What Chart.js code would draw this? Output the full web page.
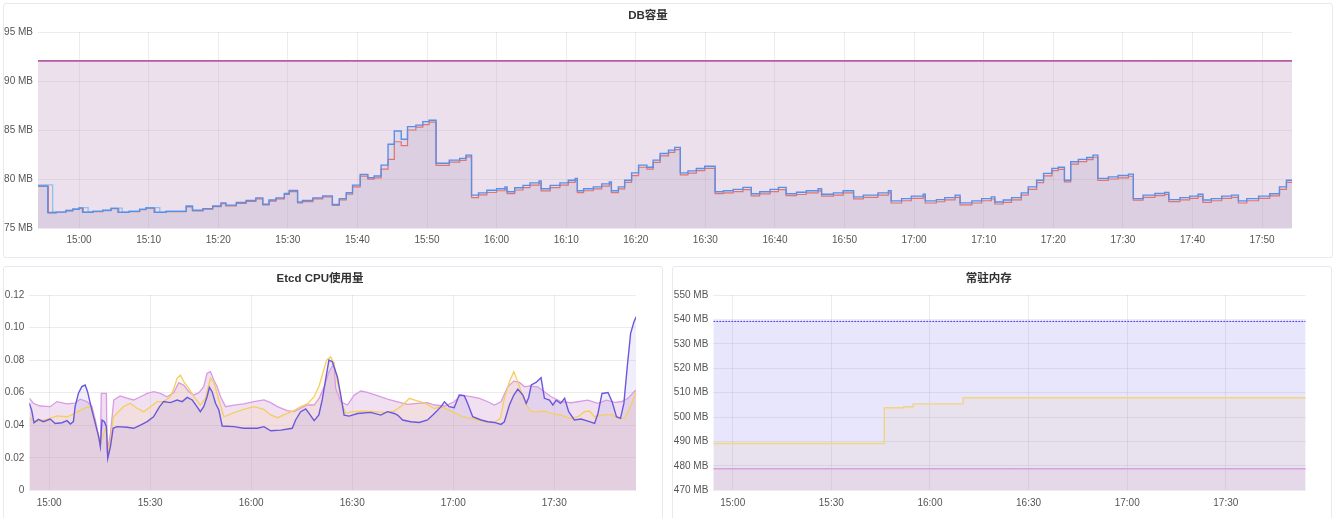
<!DOCTYPE html>
<html><head><meta charset="utf-8">
<script src="https://cdn.jsdelivr.net/npm/chart.js@4/dist/chart.umd.min.js"></script>
<style>
html,body{margin:0;padding:0;background:#fff;width:1335px;height:518px;overflow:hidden;}
.panel{position:absolute;border:1px solid #e6e9ee;border-radius:3px;background:#fff;box-sizing:border-box;}
.box{position:absolute;}
canvas{display:block;}
</style></head><body>
<div class="panel" style="left:3px;top:3px;width:1330px;height:255px"></div>
<div class="panel" style="left:3px;top:266px;width:660px;height:262px"></div>
<div class="panel" style="left:672px;top:266px;width:660px;height:262px"></div>
<div class="box" style="left:4px;top:4px;"><canvas id="c1" width="1328" height="253"></canvas></div>
<div class="box" style="left:4px;top:266px;"><canvas id="c2" width="657" height="252"></canvas></div>
<div class="box" style="left:672px;top:266px;"><canvas id="c3" width="659" height="252"></canvas></div>
<script>
// ---------- DATA (time = minutes after 15:00) ----------
const timeRange = [-5.9, 174.3];
const xTickLabelsDB = ['15:00','15:10','15:20','15:30','15:40','15:50','16:00','16:10','16:20','16:30','16:40','16:50','17:00','17:10','17:20','17:30','17:40','17:50'];
const xTickLabelsHalfHour = ['15:00','15:30','16:00','16:30','17:00','17:30'];
const yTicksDB = [75,80,85,90,95];
const yTicksCPU = [0,0.02,0.04,0.06,0.08,0.10,0.12];
const yTicksMem = [470,480,490,500,510,520,530,540,550];

// DB容量 (MB)
const dbQuotaPurple = [[-5.9,92.08],[174.3,92.08]];
const dbQuotaRed = [[-5.9,92.0],[174.3,92.0]];
const dbBlue = [[-5.9,79.3],[-4.5,76.58],[-3.3,76.62],[-1.9,76.78],[-0.9,76.92],[0,77.05],[0.5,76.6],[2,76.7],[3.4,76.8],[4.6,77.0],[5.6,76.6],[7.2,76.7],[8.7,76.9],[9.6,77.05],[10.8,76.6],[12.5,76.7],[15.4,77.22],[16.3,76.8],[17.8,76.98],[19.2,77.25],[20.4,77.56],[21.1,77.33],[22.6,77.6],[24,77.8],[25.4,78.07],[26.4,77.43],[27.3,77.85],[28.3,78.07],[29.5,78.52],[30.2,78.83],[31.4,77.66],[32.1,77.8],[33.6,78.07],[35,78.28],[36.4,77.4],[37.4,78.0],[38.4,78.6],[39.3,79.37],[40.4,80.47],[41.5,80.12],[42.4,80.3],[43.4,81.42],[44.4,83.54],[45.3,84.9],[46.3,84.05],[47.2,85.34],[48.4,85.5],[49.4,85.85],[50.3,86.0],[51.3,81.6],[53.2,81.93],[54.7,82.1],[55.6,82.44],[56.4,78.35],[57.4,78.58],[58.6,78.85],[60,79.0],[61.2,79.2],[61.5,78.7],[62.6,79.1],[63.8,79.35],[64.8,79.6],[66.1,79.8],[66.4,79.0],[67.7,79.35],[69.1,79.6],[70.3,79.88],[71.3,80.05],[71.6,78.8],[72.5,79.0],[73.9,79.2],[75.1,79.5],[76.2,79.7],[76.5,78.8],[77.5,79.2],[78.4,79.88],[79.4,80.63],[80.4,81.42],[81.6,81.2],[82.5,81.93],[83.5,82.6],[84.7,82.95],[85.6,83.23],[86.4,80.63],[87.5,80.83],[88.7,81.07],[89.9,81.3],[91.4,78.7],[92.6,78.8],[94,78.94],[95.4,79.15],[96.6,78.5],[97.8,78.7],[99.3,78.94],[100.5,79.15],[101.6,78.5],[103.1,78.65],[104.5,78.8],[106.2,79.0],[106.7,78.45],[108.4,78.58],[109.8,78.8],[111.3,78.18],[112.7,78.35],[114.8,78.58],[116.3,78.8],[116.7,77.77],[118.2,78.0],[119.6,78.25],[121.3,78.45],[121.6,77.77],[123.2,77.9],[124.4,78.1],[125.9,78.35],[126.6,77.56],[128.3,77.77],[129.7,78.0],[131.1,78.18],[131.6,77.66],[132.8,77.85],[134,78.1],[135.4,78.58],[136.4,79.2],[137.6,79.88],[138.6,80.57],[139.8,81.08],[140.7,81.2],[141.6,79.88],[142.5,81.76],[143.6,82.0],[144.8,82.2],[145.7,82.44],[146.4,80.06],[147.9,80.22],[149.3,80.35],[150.8,80.5],[151.5,78.0],[152.9,78.35],[154.6,78.52],[156,78.63],[156.6,77.9],[158.2,78.1],[159.6,78.25],[160.8,78.45],[161.5,77.85],[162.7,78.0],[164.2,78.25],[165.6,78.35],[166.6,77.77],[167.8,78.0],[169.5,78.25],[171.1,78.5],[172.5,79.2],[173.5,79.88],[174.3,79.88]];
const dbRed = [[-5.9,79.25],[-4.4,76.55],[-3.3,76.6],[-1.9,76.75],[-0.9,76.9],[0,77.0],[0.6,76.6],[2,76.68],[3.4,76.78],[4.6,76.98],[5.7,76.58],[7.2,76.68],[8.7,76.88],[9.6,77.0],[10.9,76.58],[12.5,76.68],[15.4,77.15],[16.3,76.75],[17.8,76.92],[19.2,77.18],[20.4,77.48],[21.1,77.25],[22.6,77.52],[24,77.72],[25.4,77.98],[26.4,77.35],[27.3,77.75],[28.3,77.98],[29.5,78.42],[30.2,78.72],[31.4,77.55],[32.1,77.7],[33.6,77.98],[35,78.18],[36.4,77.3],[37.4,77.88],[38.4,78.45],[39.3,79.2],[40.4,80.3],[41.5,79.98],[42.4,80.12],[43.4,81.0],[44.4,82.0],[45.3,83.8],[46.3,83.4],[47.2,85.0],[48.4,85.3],[49.4,85.55],[50.3,85.8],[51.3,81.4],[53.2,81.72],[54.7,81.9],[55.6,82.25],[56.4,78.1],[57.4,78.38],[58.6,78.62],[60,78.8],[61.2,79.0],[61.5,78.5],[62.6,78.88],[63.8,79.12],[64.8,79.38],[66.1,79.58],[66.4,78.78],[67.7,79.12],[69.1,79.38],[70.3,79.65],[71.3,79.85],[71.6,78.6],[72.5,78.8],[73.9,79.0],[75.1,79.28],[76.2,79.5],[76.5,78.6],[77.5,79.0],[78.4,79.65],[79.4,80.35],[80.4,81.2],[81.6,81.0],[82.5,81.7],[83.5,82.35],[84.7,82.72],[85.6,83.0],[86.4,80.42],[87.5,80.6],[88.7,80.85],[89.9,81.08],[91.4,78.5],[92.6,78.58],[94,78.72],[95.4,78.92],[96.6,78.28],[97.8,78.48],[99.3,78.72],[100.5,78.92],[101.6,78.3],[103.1,78.42],[104.5,78.58],[106.2,78.78],[106.7,78.25],[108.4,78.36],[109.8,78.58],[111.3,77.98],[112.7,78.12],[114.8,78.36],[116.3,78.58],[116.7,77.55],[118.2,77.78],[119.6,78.02],[121.3,78.22],[121.6,77.55],[123.2,77.68],[124.4,77.88],[125.9,78.12],[126.6,77.35],[128.3,77.55],[129.7,77.78],[131.1,77.96],[131.6,77.45],[132.8,77.62],[134,77.88],[135.4,78.35],[136.4,78.95],[137.6,79.62],[138.6,80.32],[139.8,80.85],[140.7,80.98],[141.6,79.7],[142.5,81.52],[143.6,81.78],[144.8,81.98],[145.7,82.22],[146.4,79.85],[147.9,80.0],[149.3,80.12],[150.8,80.28],[151.5,77.85],[152.9,78.12],[154.6,78.3],[156,78.42],[156.6,77.7],[158.2,77.88],[159.6,78.02],[160.8,78.22],[161.5,77.62],[162.7,77.78],[164.2,78.02],[165.6,78.12],[166.6,77.55],[167.8,77.78],[169.5,78.02],[171.1,78.28],[172.5,78.95],[173.5,79.65],[174.3,79.65]];
const dbLightBlue = [[-5.9,79.4],[-3.8,76.62],[-1.9,76.8],[-0.9,76.95],[0,77.08],[1.3,76.65],[2,76.72],[3.4,76.84],[4.6,77.03],[6.2,76.62],[7.2,76.72],[8.7,76.93],[9.6,77.08],[11.6,76.62],[12.5,76.72],[15.4,77.25],[16.3,76.83],[17.8,77.0]];

// Etcd CPU使用量
const cpuPurple = [[-5.9,0.0535],[-5.2,0.0493],[-4.5,0.0415],[-3.2,0.0436],[-1.7,0.0422],[0.3,0.0438],[1.8,0.0411],[3.8,0.0415],[5.3,0.0428],[6.3,0.0407],[7.2,0.0422],[7.7,0.0514],[8.7,0.0596],[9.7,0.0637],[10.7,0.0647],[11.4,0.0606],[12.2,0.0535],[12.7,0.0493],[13.7,0.0411],[14.7,0.033],[15.2,0.0268],[15.7,0.0432],[16.4,0.0422],[17.0,0.0391],[17.4,0.0197],[18.2,0.0268],[19.0,0.0381],[20.1,0.0391],[23.1,0.0387],[25.1,0.0381],[27.1,0.0401],[29.1,0.0422],[31.0,0.0452],[32.8,0.0514],[34.0,0.0545],[36.0,0.0539],[38.0,0.0555],[39.5,0.0545],[41.0,0.0571],[42.5,0.0555],[43.9,0.0514],[44.9,0.0483],[45.9,0.0514],[46.9,0.0575],[47.6,0.0633],[48.4,0.0606],[49.4,0.0535],[50.4,0.0493],[51.4,0.0395],[54.9,0.0391],[57.8,0.0381],[61.8,0.0381],[63.8,0.0391],[65.8,0.0366],[68.8,0.037],[72.2,0.0381],[73.2,0.0432],[74.7,0.0483],[76.2,0.05],[77.2,0.0473],[78.7,0.0428],[80.1,0.0463],[81.1,0.0555],[82.1,0.0678],[83.1,0.08],[84.1,0.079],[85.6,0.0698],[86.6,0.0585],[87.6,0.0462],[89.1,0.0456],[91.6,0.0472],[95.5,0.0479],[98.5,0.0462],[100.5,0.0483],[102.5,0.0472],[103.5,0.0462],[105,0.0432],[107.4,0.0421],[109.9,0.0417],[112.4,0.0432],[114.4,0.0472],[116.4,0.0514],[117.4,0.0544],[118.8,0.0514],[120.3,0.0507],[121.8,0.0585],[123.3,0.0581],[124.3,0.0534],[125.8,0.0452],[128.3,0.0432],[130.3,0.0421],[132.2,0.0417],[134.2,0.0405],[135.2,0.0421],[136.7,0.0524],[138,0.0585],[139.2,0.0622],[140.7,0.0585],[141.7,0.0534],[142.4,0.0569],[143.2,0.0647],[144.6,0.0663],[146.1,0.0692],[147.1,0.0565],[148.6,0.0554],[149.6,0.0524],[150.6,0.0554],[151.9,0.0534],[153.1,0.0565],[154.3,0.0483],[156,0.0432],[158,0.0438],[160,0.0425],[162,0.0411],[163,0.0472],[164.2,0.0595],[166,0.0601],[167.2,0.0544],[168.5,0.0452],[169.7,0.0442],[170.7,0.0534],[171.7,0.0759],[172.7,0.0964],[173.7,0.1036],[174.4,0.1067]];
const cpuYellow = [[-5.9,0.0442],[-3.7,0.0422],[-0.7,0.0436],[2.3,0.0457],[5.3,0.0452],[7.7,0.0473],[9.7,0.0497],[11.7,0.0514],[12.7,0.0493],[14.2,0.037],[15.2,0.0278],[16.2,0.035],[17.0,0.0391],[17.5,0.0227],[18.2,0.031],[19.1,0.0452],[20.6,0.0483],[22.1,0.0514],[24.1,0.0535],[26.1,0.0504],[28.1,0.0483],[30.1,0.0514],[32.1,0.0545],[34.0,0.0545],[36.0,0.0575],[37.0,0.0626],[38.0,0.0688],[39.0,0.0708],[40.0,0.0667],[41.5,0.0626],[43.0,0.0575],[44.9,0.0524],[46.4,0.0565],[47.9,0.0688],[48.9,0.0667],[50.4,0.0555],[51.9,0.0452],[54.9,0.0477],[57.8,0.0497],[60.8,0.0514],[63.8,0.0497],[65.8,0.0463],[67.8,0.0446],[70.7,0.0473],[72.7,0.0489],[74.7,0.0514],[76.7,0.0531],[78.7,0.0575],[80.1,0.0637],[81.1,0.0708],[82.4,0.08],[83.6,0.082],[84.6,0.0779],[85.6,0.0667],[87.1,0.0524],[88.1,0.0473],[90.1,0.0483],[93.5,0.0487],[96.5,0.0483],[99.5,0.0479],[102.5,0.0487],[105,0.0524],[107,0.0565],[108.4,0.0555],[110.4,0.0544],[112.4,0.0528],[114.4,0.0503],[116.4,0.0514],[118.8,0.0493],[120.8,0.0473],[122.8,0.0452],[125.3,0.0442],[127.3,0.0432],[129.8,0.0421],[132.2,0.0417],[134,0.0442],[135.2,0.0565],[136.7,0.0667],[138,0.0729],[139,0.0677],[140.2,0.0606],[141.7,0.0524],[143.2,0.0483],[145.1,0.0483],[147.1,0.0487],[149.1,0.0473],[152.1,0.0462],[154.6,0.0442],[157.1,0.0452],[159,0.0483],[160.5,0.0487],[162,0.0452],[164,0.0462],[167,0.0466],[169,0.0442],[170.9,0.0442],[172.4,0.0503],[174.4,0.0606]];
const cpuPink = [[-5.9,0.0566],[-4.7,0.0535],[-2.7,0.0518],[0.3,0.0514],[2.3,0.0545],[5.3,0.0531],[7.7,0.0535],[9.2,0.056],[11.2,0.0545],[12.7,0.0514],[13.7,0.0432],[14.7,0.033],[15.2,0.0278],[15.5,0.0596],[17.0,0.0596],[17.2,0.0227],[18.2,0.035],[19.2,0.0555],[21.1,0.058],[23.1,0.0566],[25.1,0.0555],[27.1,0.0575],[29.1,0.0596],[31.1,0.0606],[33.0,0.0596],[35.0,0.0575],[37.0,0.06],[38.5,0.0661],[40.0,0.0645],[41.5,0.0606],[43.0,0.0586],[44.5,0.06],[45.9,0.0637],[46.9,0.0719],[47.9,0.0729],[48.9,0.0678],[49.9,0.0637],[50.9,0.0575],[52.4,0.0514],[54.9,0.0524],[57.8,0.0531],[60.8,0.0545],[63.8,0.0555],[65.8,0.0539],[67.8,0.0514],[70.7,0.0489],[72.7,0.0483],[74.7,0.0504],[76.7,0.0524],[78.7,0.0524],[80.2,0.0566],[81.7,0.0637],[83.1,0.0729],[84.6,0.0779],[85.1,0.0627],[86.6,0.0544],[88.6,0.0524],[90.6,0.0585],[92.6,0.061],[94.5,0.0601],[97.5,0.0581],[100.5,0.056],[103.5,0.0544],[106.4,0.0528],[109.4,0.0534],[112.4,0.0538],[114.4,0.0524],[117.4,0.0518],[120.3,0.0544],[122.3,0.0585],[125.3,0.0575],[127.8,0.0565],[130.3,0.0544],[132.2,0.0524],[134.2,0.0544],[136.2,0.0636],[138,0.0671],[139.7,0.0663],[141.2,0.0636],[142.7,0.0642],[145.1,0.0636],[147.1,0.0606],[149.1,0.0575],[152.1,0.0544],[155.1,0.0538],[157,0.0544],[160,0.0554],[163,0.0534],[165.5,0.0554],[168,0.054],[169.9,0.0544],[171.9,0.0565],[173.9,0.061],[174.4,0.0615]];

// 常驻内存 (MB)
const memPurple = [[-5.9,539.2],[174.3,539.2]];
const memYellow = [[-5.9,489.2],[46.1,503.8],[52.0,504.2],[54.9,505.4],[70.1,507.9],[174.3,507.9]];
const memPink = [[-5.9,478.8],[174.3,478.8]];

// ---------- RENDERING ----------
const FONT = '"Liberation Sans", Arial, "Noto Sans CJK SC", sans-serif';
Chart.defaults.font.family = FONT;
Chart.defaults.font.size = 10;
Chart.defaults.color = '#555';

const GRID = 'rgba(0,0,0,0.075)';
function rgba(hex, a){const n=parseInt(hex.slice(1),16);return `rgba(${n>>16&255},${n>>8&255},${n&255},${a})`;}
function toMin(s){const p=s.split(':').map(Number);return (p[0]-15)*60+p[1];}
function fmtMin(v){const t=900+Math.round(v);return Math.floor(t/60)+':'+String(t%60).padStart(2,'0');}
function pts(arr){return arr.map(p=>({x:p[0],y:p[1]}));}

function line(label, arr, color, opts){
  return Object.assign({label, data: pts(arr), borderColor: color, backgroundColor: rgba(color, 0.1),
    borderWidth: 1, pointRadius: 0, fill: 'start', tension: 0}, opts||{});
}

function makeChart(id, cfg){
  return new Chart(document.getElementById(id), {
    type: 'line',
    data: {datasets: cfg.datasets},
    options: {
      responsive: false, animation: false, devicePixelRatio: 1,
      layout: {padding: cfg.padding},
      plugins: {
        legend: {display: false}, tooltip: {enabled: false},
        filler: {drawTime: 'beforeDatasetsDraw'},
        title: {display: true, text: cfg.title, color: '#333',
          font: {size: 11.5, weight: 'bold', family: FONT}, padding: cfg.titlePad}
      },
      scales: {
        x: {type: 'linear', min: timeRange[0], max: timeRange[1],
          grid: {color: GRID, drawTicks: false}, border: {display: false},
          afterBuildTicks: s => { s.ticks = cfg.xLabels.map(l => ({value: toMin(l)})); },
          afterFit: s => { s.height = 20; },
          ticks: {padding: 6.5, maxRotation: 0, autoSkip: false, callback: v => fmtMin(v)}},
        y: {type: 'linear', min: cfg.yTicks[0], max: cfg.yTicks[cfg.yTicks.length-1],
          grid: {color: GRID, drawTicks: false}, border: {display: false},
          afterBuildTicks: s => { s.ticks = cfg.yTicks.map(v => ({value: v})); },
          afterFit: s => { s.width = cfg.yWidth; },
          ticks: {padding: 5, callback: cfg.yFmt}}
      }
    }
  });
}

makeChart('c1', {
  title: 'DB容量', titlePad: {top: 5.1, bottom: 9.1},
  padding: {left: 0, right: 40, top: 0, bottom: 9}, yWidth: 34,
  xLabels: xTickLabelsDB, yTicks: yTicksDB, yFmt: v => v + ' MB',
  datasets: [
    line('purple', dbQuotaPurple, '#a35ec9', {borderWidth: 1.4, fill: false}),
    line('blue', dbBlue, '#5a8fe8', {stepped: true, borderWidth: 1.4}),
    line('lightblue', dbLightBlue, '#8cc4f0', {stepped: true, borderWidth: 1.4, fill: false}),
    line('red', dbRed, '#e2736e', {stepped: true, borderWidth: 1.2}),
    line('quota', dbQuotaRed, '#e2736e', {borderWidth: 1, backgroundColor: 'rgba(196,160,196,0.32)'})
  ]
});

makeChart('c2', {
  title: 'Etcd CPU使用量', titlePad: {top: 6.1, bottom: 9.1},
  padding: {left: 0, right: 25, top: 0, bottom: 7.7}, yWidth: 25.3,
  xLabels: xTickLabelsHalfHour, yTicks: yTicksCPU, yFmt: v => v === 0 ? '0' : v.toFixed(2),
  datasets: [
    line('purple', cpuPurple, '#6a58dc', {borderWidth: 1.4, backgroundColor: 'rgba(106,88,220,0.10)'}),
    line('yellow', cpuYellow, '#f3cf5f', {borderWidth: 1.3, backgroundColor: 'rgba(245,200,110,0.12)'}),
    line('pink', cpuPink, '#d99ce4', {borderWidth: 1.3, backgroundColor: 'rgba(214,160,214,0.33)'})
  ]
});

makeChart('c3', {
  title: '常驻内存', titlePad: {top: 6.1, bottom: 9.1},
  padding: {left: 0, right: 25.3, top: 0, bottom: 7.7}, yWidth: 41.3,
  xLabels: xTickLabelsHalfHour, yTicks: yTicksMem, yFmt: v => v + ' MB',
  datasets: [
    line('pink', memPink, '#d99fe0', {borderWidth: 1.4, backgroundColor: 'rgba(214,160,200,0.16)'}),
    line('yellow', memYellow, '#f3d57e', {stepped: true, borderWidth: 1.4, backgroundColor: 'rgba(240,200,130,0.10)'}),
    line('purple', memPurple, '#5a4ee3', {borderWidth: 1.4, borderDash: [2, 1], backgroundColor: 'rgba(100,90,235,0.15)'})
  ]
});
</script>
</body></html>
